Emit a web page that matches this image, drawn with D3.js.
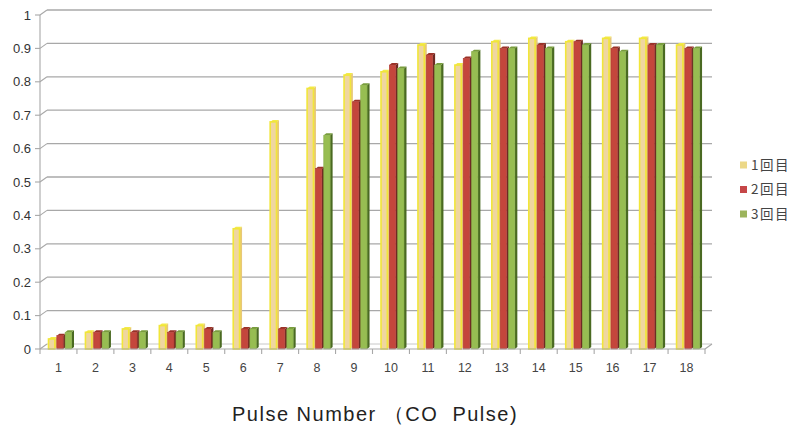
<!DOCTYPE html>
<html><head><meta charset="utf-8">
<script src="https://cdn.jsdelivr.net/npm/d3@7"></script>
<style>body{margin:0;background:#fff}svg{display:block}</style>
</head><body>
<svg id="c" width="792" height="432"></svg>
<script>
const categories = ["1","2","3","4","5","6","7","8","9","10","11","12","13","14","15","16","17","18"];
const seriesNames = ["1回目","2回目","3回目"];
const run1 = [0.03,0.05,0.06,0.07,0.07,0.36,0.68,0.78,0.82,0.83,0.91,0.85,0.92,0.93,0.92,0.93,0.93,0.91];
const run2 = [0.04,0.05,0.05,0.05,0.06,0.06,0.06,0.54,0.74,0.85,0.88,0.87,0.90,0.91,0.92,0.90,0.91,0.90];
const run3 = [0.05,0.05,0.05,0.05,0.05,0.06,0.06,0.64,0.79,0.84,0.85,0.89,0.90,0.90,0.91,0.89,0.91,0.90];
const yTicks = [0,0.1,0.2,0.3,0.4,0.5,0.6,0.7,0.8,0.9,1];
const xTitle = "Pulse Number （CO  Pulse)";

const seriesVals = [run1, run2, run3];
const colors = [
  {front:"#efd6a0", side:"#e8c878", top:"#f3ea4a", stroke:"#f1e63a", legend:"#ecd888"},
  {front:"#c4463c", side:"#6e2a22", top:"#9a3228", stroke:"#b03a32", legend:"#c64648"},
  {front:"#97bd52", side:"#4a6a22", top:"#789c3c", stroke:"#86ad46", legend:"#9cb45c"}
];

const svg = d3.select("#c");
const y = d3.scaleLinear().domain([0,1]).range([349,15]);
const x = d3.scaleBand().domain(categories).range([40,705]).padding(0);
const xs = d3.scaleBand().domain(d3.range(3)).range([8.5,33.5]).padding(0);
const dx = 7, dy = -5;
const font = "'Liberation Sans', Arial, sans-serif";

const g = svg.append("g");
yTicks.forEach(t => {
  if (t > 0) {
    g.append("line").attr("x1",40+dx).attr("x2",705+dx).attr("y1",y(t)+dy).attr("y2",y(t)+dy)
      .attr("stroke","#a8a8a8").attr("stroke-width",1.3);
  }
  g.append("line").attr("x1",40).attr("y1",y(t)).attr("x2",40+dx).attr("y2",y(t)+dy)
    .attr("stroke","#a8a8a8").attr("stroke-width",1.1);
  g.append("line").attr("x1",35).attr("y1",y(t)).attr("x2",40).attr("y2",y(t))
    .attr("stroke","#a8a8a8").attr("stroke-width",1.1);
  g.append("text").attr("x",31).attr("y",y(t)).attr("dy","0.35em").attr("text-anchor","end")
    .attr("font-family",font).attr("font-size",13).attr("fill","#333").text(t===0?"0":(t===1?"1":d3.format(".1f")(t)));
});
g.append("line").attr("x1",40+dx).attr("x2",705+dx).attr("y1",y(0)+dy).attr("y2",y(0)+dy)
  .attr("stroke","#c8c8c8").attr("stroke-width",1);
g.append("line").attr("x1",705).attr("y1",y(0)).attr("x2",705+dx).attr("y2",y(0)+dy)
  .attr("stroke","#a8a8a8").attr("stroke-width",1.1);
g.append("line").attr("x1",40).attr("x2",40).attr("y1",y(1)).attr("y2",y(0))
  .attr("stroke","#a8a8a8").attr("stroke-width",1.1);

const sdx = 2.5, sdy = -2;
const bars = svg.append("g");
seriesVals.forEach((vals, si) => {
  const c = colors[si];
  const bw = xs.bandwidth() - sdx + 0.5;
  categories.forEach((cat, i) => {
    const x0 = x(cat) + xs(si);
    const yt = y(vals[i]);
    const yb = y(0);
    bars.append("path").attr("d",`M${x0+bw},${yt} L${x0+bw+sdx},${yt+sdy} L${x0+bw+sdx},${yb+sdy} L${x0+bw},${yb} Z`)
      .attr("fill",c.side);
    bars.append("path").attr("d",`M${x0},${yt} L${x0+sdx},${yt+sdy} L${x0+bw+sdx},${yt+sdy} L${x0+bw},${yt} Z`)
      .attr("fill",c.top);
    bars.append("rect").attr("x",x0).attr("y",yt).attr("width",bw).attr("height",yb-yt)
      .attr("fill",c.front).attr("stroke",c.stroke).attr("stroke-width",si===0?1.6:0.6);
  });
});

svg.append("line").attr("x1",40).attr("x2",705).attr("y1",y(0)).attr("y2",y(0))
  .attr("stroke","#a8a8a8").attr("stroke-width",1.2);
const xAxis = svg.append("g");
categories.forEach((cat,i) => {
  xAxis.append("line").attr("x1",x(cat)).attr("x2",x(cat)).attr("y1",y(0)).attr("y2",y(0)+5)
    .attr("stroke","#a8a8a8").attr("stroke-width",1.1);
  xAxis.append("text").attr("x",x(cat)+x.bandwidth()/2).attr("y",372)
    .attr("text-anchor","middle").attr("font-family",font).attr("font-size",12.5).attr("fill","#444").text(cat);
});
xAxis.append("line").attr("x1",705).attr("x2",705).attr("y1",y(0)).attr("y2",y(0)+5)
  .attr("stroke","#a8a8a8").attr("stroke-width",1.1);

svg.append("text").attr("x",232).attr("y",421).attr("text-anchor","start")
  .attr("xml:space","preserve").style("white-space","pre")
  .attr("font-family",font).attr("font-size",20).attr("letter-spacing",1.5).attr("fill","#222").text(xTitle);

const lg = svg.append("g");
seriesNames.forEach((n, i) => {
  const ly = 165 + i*24.5;
  lg.append("rect").attr("x",740).attr("y",ly-3.5).attr("width",7).attr("height",7).attr("fill",colors[i].legend);
  lg.append("text").attr("x",751).attr("y",ly).attr("dy","0.36em").attr("letter-spacing",1.5)
    .attr("font-family","'Noto Sans CJK JP', sans-serif").attr("font-size",13.5).attr("fill","#444").text(n);
});
</script>
</body></html>
